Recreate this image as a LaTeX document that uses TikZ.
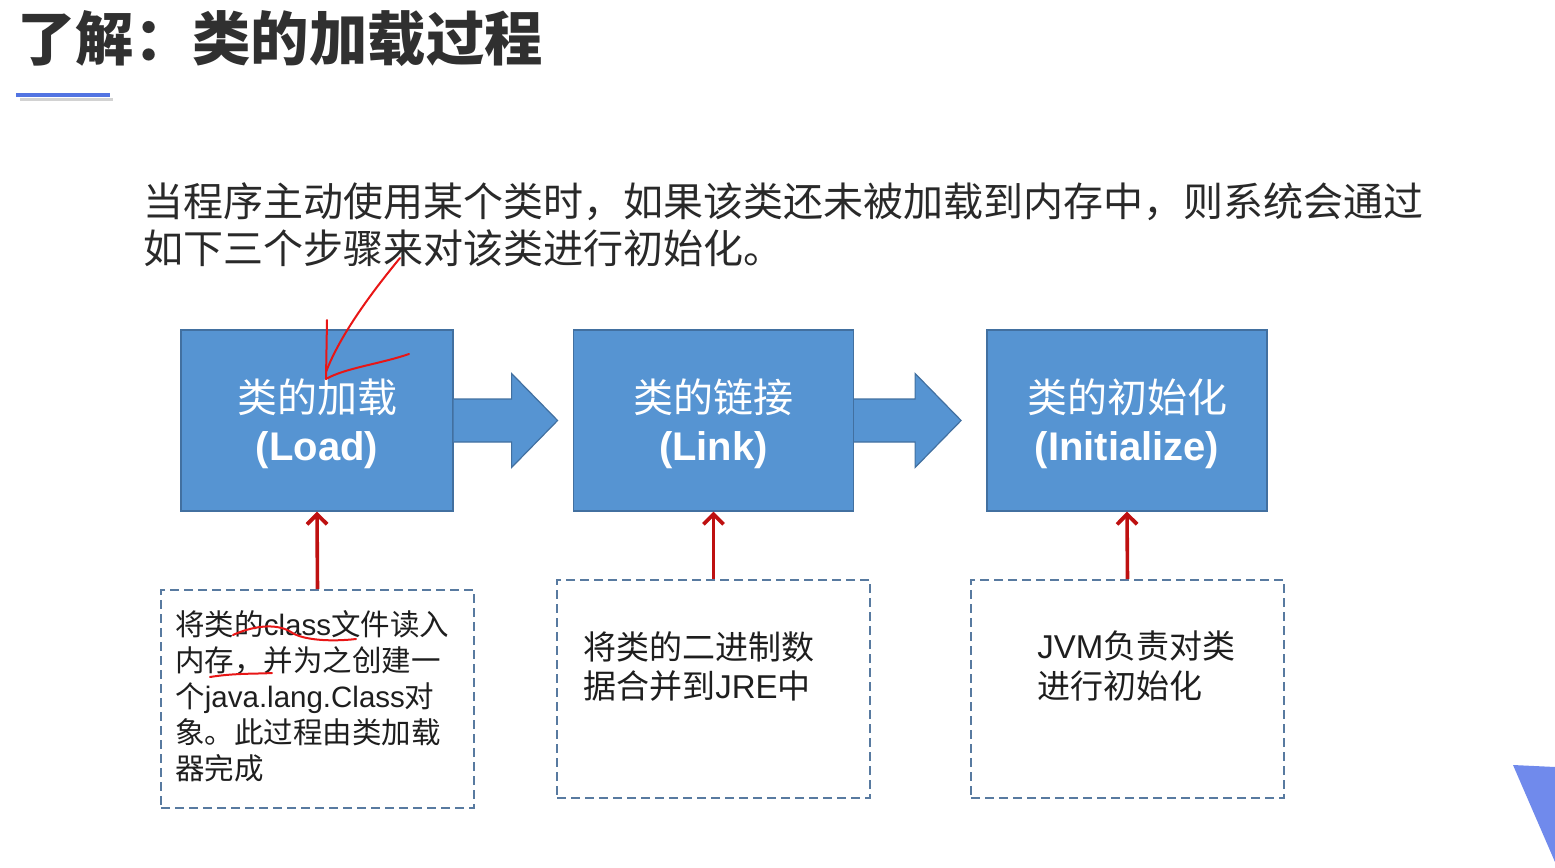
\documentclass[tikz,border=0pt]{standalone}
\usepackage{fontspec}
\setmainfont{Noto Sans CJK SC}
\newfontfamily\lat{Liberation Sans}
\usetikzlibrary{
    calc,
    positioning,
    arrows.meta
}

\begin{document}
\begin{tikzpicture}[
    x=0.5pt, y=-0.5pt,
    box/.style={
    	draw=box-edge,
    	fill=box-blue,
    	line width=0.6pt,
    	minimum width=140pt,
    	minimum height=90.5pt,
    	inner sep=0pt
    }, boxtxt/.style={
    	inner sep=0pt, align=center, text=white,
    	font=\fontsize{20}{24}\selectfont
    }, note/.style={
    	draw=note-blue,
    	dash pattern=on 4.5pt off 2.5pt,
    	line width=1pt,
    	minimum width=156.5pt,
    	minimum height=109pt,
    	inner sep=0pt
    }, txt/.style={
    	anchor=north west, align=left, inner sep=0pt, text=txt-black
    }, pil/.style={
    	-{Straight Barb[length=5pt,width=10pt,line width=1.9pt]},
    	draw=arrow-red,
    	line width=1.8pt
    }, blk/.style={
    	fill=box-blue,
    	draw=box-edge,
    	line width=0.6pt
    }, pen/.style={
    	draw=pen-red,
    	line width=1pt,
    	line cap=round
    }]
    \definecolor{box-blue}{RGB}{86, 148, 210}
    \definecolor{box-edge}{RGB}{66, 112, 160}
    \definecolor{note-blue}{RGB}{88, 122, 160}
    \definecolor{arrow-red}{RGB}{190, 16, 16}
    \definecolor{pen-red}{RGB}{232, 22, 22}
    \definecolor{txt-black}{RGB}{30, 30, 30}
    \definecolor{title-grey}{RGB}{48, 48, 48}
    \definecolor{line-blue}{RGB}{82, 116, 226}
    \definecolor{corner-blue}{RGB}{112, 138, 236}

    \useasboundingbox (0,0) rectangle (1555,868);

    % title
    \node[txt, text=title-grey, font=\fontsize{29.2}{29}\selectfont\bfseries] (title) at (17,10) {了解：类的加载过程};
    \draw[gray!35, line width=1.2pt] (20,99.5) -- (113,99.5);
    \draw[line-blue, line width=2pt] (16,95) -- (110,95);

    \node[txt, text=txt-black!95, font=\fontsize{20}{23.5}\selectfont] (intro) at (143,182) {当程序主动使用某个类时，如果该类还未被加载到内存中，则系统会通过\\如下三个步骤来对该类进行初始化。};

    % stages
    \node[box, minimum width=136pt] (load) at (317,420.5) {};
    \node[box] (link) at (713.5,420.5) {};
    \node[box] (init) at (1127,420.5) {};
    \node[boxtxt] (load-lbl) at ([yshift=-1.5pt]load.center) {类的加载\\{\lat\bfseries (Load)}};
    \node[boxtxt] (link-lbl) at ([yshift=-1.5pt]link.center) {类的链接\\{\lat\bfseries (Link)}};
    \node[boxtxt] (init-lbl) at ([yshift=-1.5pt]init.center) {类的初始化\\{\lat\bfseries (Initialize)}};

    \draw[blk] (load.east) ++(0,-21.5) -- ++(58,0) -- ++(0,-25.5) -- ++(46,47) -- ++(-46,47) -- ++(0,-25.5) -- ++(-58,0);
    \draw[blk] (link.east) ++(0,-21.5) -- ++(61,0) -- ++(0,-25.5) -- ++(46,47) -- ++(-46,47) -- ++(0,-25.5) -- ++(-61,0);

    % descriptions
    \node[note] (load-note) at (317.5,699) {};
    \node[note] (link-note) at (713.5,689) {};
    \node[note] (init-note) at (1127.5,689) {};

    \node[txt, font=\fontsize{14.75}{18}\selectfont] (load-txt) at (175,610) {将类的{\lat class}文件读入\\内存，并为之创建一\\个{\lat java.lang.Class}对\\象。此过程由类加载\\器完成};
    \node[txt, font=\fontsize{16.5}{19.5}\selectfont] (link-txt) at (583,631) {将类的二进制数\\据合并到{\lat JRE}中};
    \node[txt, font=\fontsize{16.5}{20}\selectfont] (init-txt) at (1037,630) {{\lat JVM}负责对类\\进行初始化};

    \draw[pil] (load-note.north) -- (load.south);
    \draw[pil] (link-note.north) -- (link.south);
    \draw[pil] (init-note.north) -- (init.south);

    % pen marks
    \draw[pen] (327,320) -- (326,379);
    \draw[pen] (400,258) .. controls (372,292) and (340,335) .. (326,372);
    \draw[pen] (326,379) .. controls (345,368) and (380,364) .. (409,354);
    \draw[pen] (233,635) .. controls (250,627) and (275,622) .. (291,632) .. controls (302,640) and (330,642) .. (356,639);
    \draw[pen] (210,677) .. controls (235,673) and (255,674) .. (272,673);

    \fill[corner-blue] (1513,765) -- (1555,767) -- (1555,862) -- cycle;
\end{tikzpicture}
\end{document}
